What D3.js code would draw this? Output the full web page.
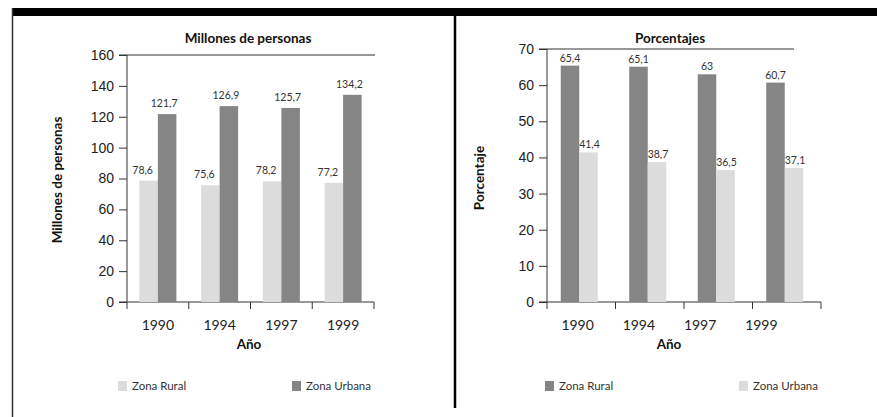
<!DOCTYPE html>
<html>
<head>
<meta charset="utf-8">
<script src="https://cdn.jsdelivr.net/npm/d3@7"></script>
<style>
  body { margin: 0; background: #fff; }
  svg { display: block; font-family: Lato, "Open Sans", sans-serif; }
  .axis text { font-size: 14px; fill: #222; }
  .axis path, .axis line { stroke: #333; }
</style>
</head>
<body>
<svg id="chart" width="877" height="417"></svg>
<script>
const years = ["1990", "1994", "1997", "1999"];
const millonesRural = [78.6, 75.6, 78.2, 77.2];
const millonesUrbana = [121.7, 126.9, 125.7, 134.2];
const pctRural = [65.4, 65.1, 63, 60.7];
const pctUrbana = [41.4, 38.7, 36.5, 37.1];
const millonesTicks = [0, 20, 40, 60, 80, 100, 120, 140, 160];
const pctTicks = [0, 10, 20, 30, 40, 50, 60, 70];

const LIGHT = "#dcdcdc", DARK = "#858585";
const svg = d3.select("#chart");
const fmt = v => String(v).replace(".", ",");

// frame: black band, left edge, divider
svg.append("rect").attr("x", 12).attr("y", 8).attr("width", 865).attr("height", 8).attr("fill", "#000");
svg.append("line").attr("x1", 12.5).attr("x2", 12.5).attr("y1", 8).attr("y2", 417).attr("stroke", "#333").attr("stroke-width", 1.5);
svg.append("line").attr("x1", 455).attr("x2", 455).attr("y1", 16).attr("y2", 408).attr("stroke", "#000").attr("stroke-width", 2.5);

function drawPanel(o) {
  const g = svg.append("g");
  const x = d3.scaleBand().domain(years).range([o.x0, o.x1]);
  const xl = d3.scaleBand().domain(years).range([o.x0, o.labelEnd]);
  const y = d3.scaleLinear().domain([0, o.max]).range([302, o.top]);

  // top line
  g.append("line").attr("x1", o.x0 - 8).attr("x2", o.topEnd).attr("y1", y(o.max)).attr("y2", y(o.max))
    .attr("stroke", "#333");

  // y axis
  const ya = g.append("g").attr("class", "axis").attr("transform", `translate(${o.x0},0)`)
    .call(d3.axisLeft(y).tickValues(o.ticks).tickSize(8).tickSizeOuter(0).tickPadding(5));
  ya.select(".domain").remove();
  ya.append("line").attr("y1", y(0)).attr("y2", y(o.max)).attr("stroke", "#333");

  // x axis: ticks at band edges
  const xa = g.append("g").attr("class", "axis").attr("transform", `translate(0,${y(0)})`);
  xa.append("line").attr("x1", o.x0 - 8).attr("x2", o.x1).attr("stroke", "#333");
  const edges = years.map(d => x(d)).concat([o.x1]);
  xa.selectAll("line.tk").data(edges).enter().append("line").attr("class", "tk")
    .attr("x1", d => d).attr("x2", d => d).attr("y1", 0).attr("y2", 7).attr("stroke", "#333");
  xa.selectAll("text").data(years).enter().append("text")
    .attr("x", d => xl(d) + xl.bandwidth() / 2).attr("y", 28).attr("text-anchor", "middle").text(d => d);

  const bw = 18.5;
  const series = [
    { vals: o.first, color: o.firstColor, off: -bw, lab: o.labShift[0] },
    { vals: o.second, color: o.secondColor, off: 0, lab: o.labShift[1] }
  ];
  series.forEach(s => {
    years.forEach((yr, i) => {
      const cx = x(yr) + x.bandwidth() / 2 + o.shift;
      g.append("rect").attr("x", cx + s.off).attr("width", bw)
        .attr("y", y(s.vals[i])).attr("height", y(0) - y(s.vals[i])).attr("fill", s.color);
      g.append("text").attr("x", cx + s.off + bw / 2 + s.lab).attr("y", y(s.vals[i]) - o.labGap)
        .attr("text-anchor", "middle").attr("font-size", 10.5).attr("fill", "#333").text(fmt(s.vals[i]));
    });
  });

  // titles
  g.append("text").attr("x", o.titleX).attr("y", 43).attr("text-anchor", "middle")
    .attr("font-weight", "bold").attr("font-size", 13.5).attr("fill", "#111").text(o.title);
  g.append("text").attr("transform", `translate(${o.yTitleX},${o.yTitleY}) rotate(-90)`)
    .attr("text-anchor", "middle").attr("font-weight", "bold")
    .attr("font-size", 13.5).attr("fill", "#111").text(o.yTitle);
  g.append("text").attr("x", o.axTitleX).attr("y", 349).attr("text-anchor", "middle")
    .attr("font-weight", "bold").attr("font-size", 13.5).attr("fill", "#111").text("Año");

  // legend
  o.legend.forEach(l => {
    g.append("rect").attr("x", l.x).attr("y", 381).attr("width", 9).attr("height", 10).attr("fill", l.color);
    g.append("text").attr("x", l.x + 14).attr("y", 390).attr("font-size", 11.5).attr("fill", "#333").text(l.label);
  });
}

drawPanel({
  x0: 127, x1: 374, labelEnd: 374, topEnd: 375, top: 55, max: 160, ticks: millonesTicks,
  first: millonesRural, firstColor: LIGHT, second: millonesUrbana, secondColor: DARK, shift: 0,
  labShift: [-6, -3], labGap: 7,
  title: "Millones de personas", titleX: 248, yTitle: "Millones de personas", yTitleX: 62, yTitleY: 180,
  axTitleX: 249,
  legend: [{ x: 118, color: LIGHT, label: "Zona Rural" }, { x: 292, color: DARK, label: "Zona Urbana" }]
});

drawPanel({
  x0: 547, x1: 821, labelEnd: 792, topEnd: 794, top: 49, max: 70, ticks: pctTicks,
  first: pctRural, firstColor: DARK, second: pctUrbana, secondColor: LIGHT, shift: -2,
  labShift: [0, 1], labGap: 4,
  title: "Porcentajes", titleX: 670, yTitle: "Porcentaje", yTitleX: 484, yTitleY: 178,
  axTitleX: 669,
  legend: [{ x: 545, color: DARK, label: "Zona Rural" }, { x: 739, color: LIGHT, label: "Zona Urbana" }]
});
</script>
</body>
</html>
